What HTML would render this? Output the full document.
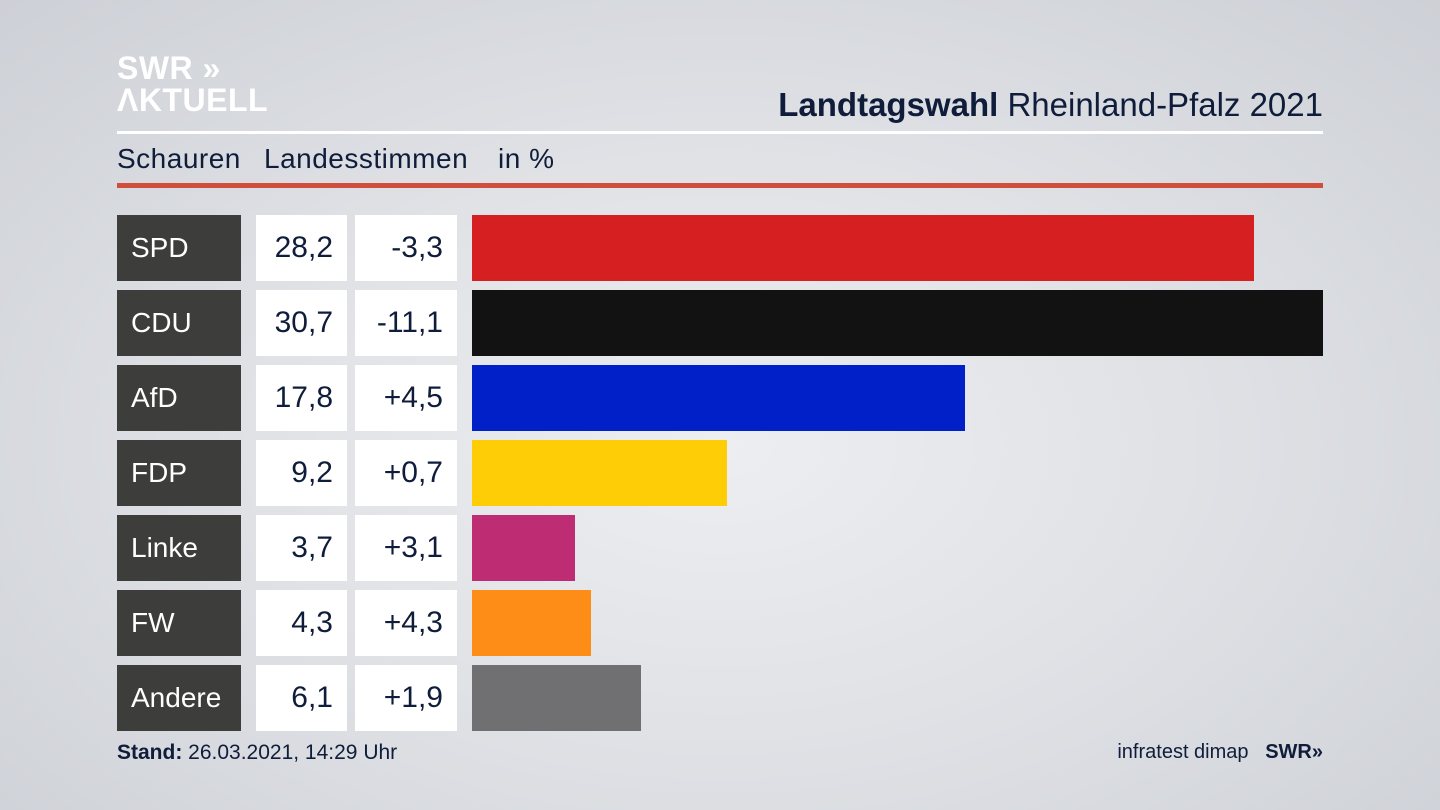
<!DOCTYPE html>
<html><head><meta charset="utf-8">
<style>
html,body{margin:0;padding:0}
body{width:1440px;height:810px;position:relative;overflow:hidden;font-family:"Liberation Sans",sans-serif;color:#0f1d3a;
background:radial-gradient(ellipse at 50% 55%,#eceef1 0%,#e0e2e6 45%,#cdd0d6 100%);}
.abs{position:absolute}
.lbl{background:#3d3d3c;color:#fff;font-size:28px;line-height:66px;padding-left:14px;box-sizing:border-box}
.val{background:#fff;font-size:30px;line-height:66px;text-align:right;padding-right:14px;box-sizing:border-box}
.sub{position:absolute;top:143px;font-size:28px;letter-spacing:0.5px}
</style></head><body>
<div class="abs" style="left:117px;top:52px;color:#fff;font-weight:bold;font-size:32px;line-height:32px;letter-spacing:0.5px">SWR &#187;<br>ΛKTUELL</div>
<div class="abs" style="right:117px;top:86px;font-size:33px"><b>Landtagswahl</b> Rheinland-Pfalz 2021</div>
<div class="abs" style="left:117px;top:131px;width:1206px;height:3px;background:#fff"></div>
<div class="sub" style="left:117px">Schauren</div>
<div class="sub" style="left:264px">Landesstimmen</div>
<div class="sub" style="left:498px">in %</div>
<div class="abs" style="left:117px;top:183px;width:1206px;height:5px;background:#cf4f3c"></div>
<div id="chart"></div>
<div class="abs" style="left:117px;top:741px;font-size:21px"><b>Stand:</b> 26.03.2021, 14:29 Uhr</div>
<div class="abs" style="right:117px;top:741px;font-size:20px">infratest dimap&nbsp;&nbsp; <b>SWR&#187;</b></div>
<script>
const parties=["SPD","CDU","AfD","FDP","Linke","FW","Andere"];
const shares=[28.2,30.7,17.8,9.2,3.7,4.3,6.1];
const changes=["-3,3","-11,1","+4,5","+0,7","+3,1","+4,3","+1,9"];
const colors=["#d51f20","#121212","#0120c8","#fecd06","#be2c73","#fd8d17","#707072"];
const x0=472,scale=851/30.7,top0=215,pitch=75,h=66;
const c=document.getElementById('chart');
function mk(cls,l,w,y,txt,bg){const d=document.createElement('div');d.className='abs '+cls;d.style.left=l+'px';d.style.top=y+'px';d.style.width=w+'px';d.style.height=h+'px';if(bg)d.style.background=bg;if(txt!==null)d.textContent=txt;c.appendChild(d);return d;}
parties.forEach((p,i)=>{const y=top0+i*pitch;
const a=mk('lbl',117,124,y,p);


const b=mk('val',256,91,y,shares[i].toFixed(1).replace('.',','));


const d=mk('val',355,102,y,changes[i]);


const e=mk('',x0,shares[i]*scale,y,null,colors[i]);


});
</script>
</body></html>
